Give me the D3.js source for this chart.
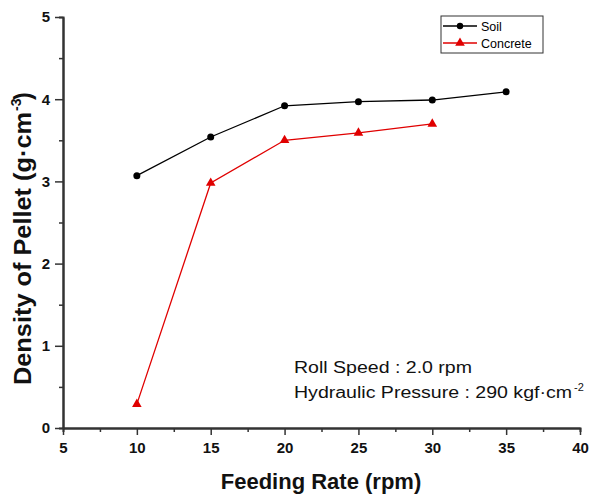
<!DOCTYPE html>
<html>
<head>
<meta charset="utf-8">
<script src="https://cdnjs.cloudflare.com/ajax/libs/d3/7.8.5/d3.min.js"></script>
<style>
  body { margin: 0; background: #fff; }
  text { font-family: Arial, "Liberation Sans", sans-serif; }
</style>
</head>
<body>
<svg id="chart" width="590" height="495"></svg>
<script>
// data
var feedRate = [10, 15, 20, 25, 30, 35];
var soil = [3.07, 3.54, 3.92, 3.97, 3.99, 4.09];
var concrete = [0.29, 2.98, 3.50, 3.59, 3.70];
var xTicks = [5, 10, 15, 20, 25, 30, 35, 40];
var yTicks = [0, 1, 2, 3, 4, 5];

var svg = d3.select("#chart");
var x = d3.scaleLinear().domain([5, 40]).range([63, 580]);
var y = d3.scaleLinear().domain([0, 5]).range([428, 17]);
var axisCol = "#333";

// axes
var gx = svg.append("g").attr("transform", "translate(0," + y(0) + ")");
gx.call(d3.axisBottom(x).tickValues(xTicks).tickSize(7).tickSizeOuter(0).tickPadding(5).tickFormat(d3.format("d")));
gx.append("g").call(d3.axisBottom(x).tickValues(d3.range(7.5, 40, 5)).tickSize(4).tickFormat(""));

var gy = svg.append("g").attr("transform", "translate(" + x(5) + ",0)");
gy.call(d3.axisLeft(y).tickValues(yTicks).tickSize(8).tickSizeOuter(0).tickPadding(5).tickFormat(d3.format("d")));
gy.append("g").call(d3.axisLeft(y).tickValues(d3.range(0.5, 5, 1)).tickSize(4).tickFormat(""));

svg.selectAll(".domain").attr("stroke", axisCol).attr("stroke-width", 2);
svg.selectAll(".tick line").attr("stroke", axisCol).attr("stroke-width", 1.5);
svg.selectAll(".tick text").attr("fill", "#111").style("font-size", "15px").style("font-weight", "bold");
gx.selectAll(".tick text").attr("dy", "0.85em");

// lines
var line = d3.line().x(function (d) { return x(d[0]); }).y(function (d) { return y(d[1]); });
var soilPts = feedRate.map(function (f, i) { return [f, soil[i]]; });
var concPts = concrete.map(function (v, i) { return [feedRate[i], v]; });

svg.append("path").datum(soilPts).attr("d", line)
  .attr("fill", "none").attr("stroke", "#000").attr("stroke-width", 1.3);
svg.append("path").datum(concPts).attr("d", line)
  .attr("fill", "none").attr("stroke", "#e00000").attr("stroke-width", 1.3);

svg.selectAll(".soilPt").data(soilPts).enter().append("circle")
  .attr("cx", function (d) { return x(d[0]); })
  .attr("cy", function (d) { return y(d[1]); })
  .attr("r", 3.5).attr("fill", "#000");

var tri = d3.symbol().type(d3.symbolTriangle).size(40);
svg.selectAll(".concPt").data(concPts).enter().append("path")
  .attr("d", tri)
  .attr("transform", function (d) { return "translate(" + x(d[0]) + "," + y(d[1]) + ")"; })
  .attr("fill", "#e00000");

// legend
var lg = svg.append("g");
lg.append("rect").attr("x", 441).attr("y", 16).attr("width", 102).attr("height", 37)
  .attr("fill", "#fff").attr("stroke", "#333").attr("stroke-width", 1);
lg.append("line").attr("x1", 443).attr("x2", 477).attr("y1", 26).attr("y2", 26).attr("stroke", "#000").attr("stroke-width", 1.3);
lg.append("circle").attr("cx", 460).attr("cy", 26).attr("r", 3.2).attr("fill", "#000");
lg.append("line").attr("x1", 443).attr("x2", 477).attr("y1", 43).attr("y2", 43).attr("stroke", "#e00000").attr("stroke-width", 1.3);
lg.append("path").attr("d", tri).attr("transform", "translate(460,43)").attr("fill", "#e00000");
lg.append("text").attr("x", 481).attr("y", 30.5).style("font-size", "12.5px").text("Soil");
lg.append("text").attr("x", 481).attr("y", 47.5).style("font-size", "12.5px").text("Concrete");

// annotation
var note = svg.append("g").style("font-size", "16px").attr("fill", "#111");
note.append("text").attr("x", 294).attr("y", 373)
  .attr("textLength", 178).attr("lengthAdjust", "spacingAndGlyphs")
  .text("Roll Speed : 2.0 rpm");
note.append("text").attr("x", 294).attr("y", 398)
  .attr("textLength", 278).attr("lengthAdjust", "spacingAndGlyphs")
  .text("Hydraulic Pressure : 290 kgf\u00b7cm");
note.append("text").attr("x", 574).attr("y", 391).style("font-size", "11px").text("-2");

// axis titles
svg.append("text").attr("x", 321).attr("y", 489).attr("text-anchor", "middle")
  .style("font-size", "22px").style("font-weight", "bold").attr("fill", "#111")
  .text("Feeding Rate (rpm)");
var yt = svg.append("g").attr("transform", "translate(31,0) rotate(-90)")
  .style("font-size", "23px").style("font-weight", "bold").attr("fill", "#111");
yt.append("text").attr("x", -385).attr("y", 0)
  .attr("textLength", 273).attr("lengthAdjust", "spacingAndGlyphs")
  .text("Density of Pellet (g\u00b7cm");
yt.append("text").attr("x", -111).attr("y", -10).style("font-size", "14px").text("-3");
yt.append("text").attr("x", -100).attr("y", 0).text(")");
</script>
</body>
</html>
